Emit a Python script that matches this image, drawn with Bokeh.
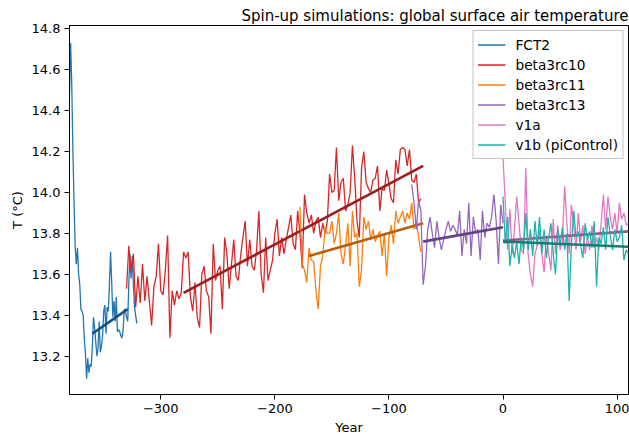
import numpy as np
from bokeh.plotting import figure
from bokeh.models import (Range1d, FixedTicker, PrintfTickFormatter, CustomJSTickFormatter,
                          Legend, LegendItem, ColumnDataSource)
from bokeh.embed import file_html
from bokeh.resources import INLINE

# ---------------- data ----------------
fct2_years = list(range(-380, -320, 1))
fct2_T = [14.48, 14.73, 14.52, 14.20, 13.95, 13.73, 13.65, 13.73, 13.60, 13.55,
          13.43, 13.42, 13.40, 13.28, 13.21, 13.09, 13.19, 13.12, 13.16, 13.15,
          13.24, 13.39, 13.34, 13.27, 13.20, 13.24, 13.37, 13.22, 13.25, 13.30,
          13.42, 13.45, 13.31, 13.44, 13.42, 13.55, 13.71, 13.56, 13.39, 13.47,
          13.37, 13.49, 13.32, 13.33, 13.32, 13.30, 13.29, 13.33, 13.43, 13.42,
          13.39, 13.37, 13.55, 13.70, 13.58, 13.69, 13.55, 13.44, 13.40, 13.36]

b10_years = list(range(-330, -71, 2))
b10_T = [13.53, 13.74, 13.61, 13.70, 13.44, 13.59, 13.46, 13.65, 13.47, 13.59,
         13.47, 13.35, 13.54, 13.59, 13.75, 13.52, 13.50, 13.62, 13.79, 13.29,
         13.52, 13.45, 13.52, 13.48, 13.51, 13.71, 13.68, 13.71, 13.49, 13.42,
         13.56, 13.39, 13.34, 13.60, 13.64, 13.52, 13.49, 13.31, 13.75, 13.57,
         13.62, 13.64, 13.43, 13.78, 13.70, 13.53, 13.65, 13.77, 13.59, 13.57,
         13.69, 13.78, 13.86, 13.64, 13.77, 13.64, 13.62, 13.72, 13.91, 13.60,
         13.51, 13.78, 13.57, 13.62, 13.67, 13.80, 13.87, 13.69, 13.78, 13.70,
         13.77, 13.83, 13.89, 13.75, 13.72, 13.91, 13.80, 13.63, 13.99, 13.90,
         13.85, 13.89, 13.80, 13.86, 13.88, 13.78, 13.85, 13.80, 13.86, 14.09,
         14.00, 14.01, 14.22, 13.96, 14.05, 14.07, 13.91, 13.94, 14.00, 14.23,
         14.07, 13.86, 13.78, 14.12, 14.20, 14.05, 14.02, 14.00, 14.06, 14.07,
         14.13, 13.91, 14.02, 14.01, 14.11, 14.04, 13.97, 13.95, 14.16, 14.09,
         14.21, 14.22, 14.21, 14.13, 14.21, 14.06, 14.05, 14.09, 13.95, 13.97]

b11_years = list(range(-178, -71, 2))
b11_T = [13.93, 13.65, 13.62, 13.56, 13.73, 13.67, 13.66, 13.52, 13.43, 13.64,
         13.69, 13.83, 13.80, 13.80, 13.86, 13.75, 13.80, 13.90, 13.70, 13.65,
         13.74, 13.85, 13.64, 13.91, 13.78, 13.80, 13.54, 13.62, 13.88, 13.82,
         13.86, 13.77, 13.82, 13.76, 13.79, 13.81, 13.69, 13.80, 13.59, 13.78,
         13.84, 13.75, 13.91, 13.85, 13.88, 13.91, 13.85, 13.90, 13.87, 13.95,
         13.82, 13.86, 13.78, 13.71]

b13_years = list(range(-80, 1, 2))
b13_T = [14.04, 13.95, 13.82, 13.96, 13.91, 13.55, 13.64, 13.82, 13.88, 13.80,
         13.73, 13.86, 13.78, 13.72, 13.77, 13.82, 13.86, 13.81, 13.84, 13.82,
         13.79, 13.91, 13.69, 13.82, 13.75, 13.95, 13.69, 13.88, 13.80, 13.82,
         13.67, 13.91, 13.78, 13.85, 13.83, 13.88, 13.99, 13.86, 13.65, 13.94,
         13.85]

v1a_years = list(range(0, 111, 2))
v1a_T = [14.17, 13.95, 13.72, 13.92, 13.70, 13.82, 13.98, 13.85, 13.72, 13.70,
         14.12, 13.70, 13.60, 13.54, 13.70, 13.74, 13.82, 13.70, 13.61, 13.79,
         13.70, 13.62, 13.87, 13.70, 13.84, 13.72, 13.76, 14.03, 13.85, 13.70,
         13.94, 13.83, 13.72, 13.90, 13.76, 13.84, 13.70, 13.78, 13.72, 13.84,
         13.73, 13.78, 13.72, 13.85, 13.99, 13.82, 13.98, 13.88, 13.82, 13.90,
         13.80, 13.95, 13.87, 13.90, 13.84, 13.85]

v1b_years = list(range(0, 111, 2))
v1b_T = [13.98, 13.75, 13.88, 13.64, 13.74, 13.68, 13.76, 13.65, 13.78, 13.72,
         13.90, 13.72, 13.82, 13.69, 13.86, 13.74, 13.88, 13.70, 13.82, 13.68,
         13.78, 13.85, 13.70, 13.60, 13.82, 13.74, 13.83, 13.72, 13.80, 13.47,
         13.75, 13.91, 13.78, 13.81, 13.74, 13.68, 13.85, 13.77, 13.81, 13.73,
         13.86, 13.54, 13.78, 13.75, 13.83, 13.72, 13.88, 13.79, 13.72, 13.82,
         13.76, 13.78, 13.84, 13.67, 13.72, 13.70]

# linear trend end points (year, T)
trend_years = [[-360, -329], [-280, -70], [-170, -70], [-70, 0], [0, 110], [0, 110]]
trend_T = [[13.31, 13.43], [13.51, 14.13], [13.69, 13.85], [13.76, 13.83],
           [13.765, 13.81], [13.76, 13.735]]

names = ["FCT2", "beta3rc10", "beta3rc11", "beta3rc13", "v1a", "v1b (piControl)"]
colors = ["#1f77b4", "#d62728", "#ff7f0e", "#9467bd", "#e377c2", "#20b2aa"]
trend_colors = ["#18507c", "#9b1d1e", "#b85d0c", "#624282", "#a0508a", "#147d76"]

x_ticks = [-300, -200, -100, 0, 100]
y_ticks = [13.2, 13.4, 13.6, 13.8, 14.0, 14.2, 14.4, 14.6, 14.8]

series = [(fct2_years, fct2_T), (b10_years, b10_T), (b11_years, b11_T),
          (b13_years, b13_T), (v1a_years, v1a_T), (v1b_years, v1b_T)]

# ---------------- figure ----------------
FONT = "DejaVu Sans"
p = figure(width=629, height=437, output_backend="svg", toolbar_location=None,
           x_range=Range1d(-380, 110), y_range=Range1d(13.013, 14.816),
           min_border_left=69, min_border_right=1, min_border_top=25, min_border_bottom=42)
p.title.text = "Spin-up simulations: global surface air temperature"
p.title.align = "right"
p.title.text_font = FONT
p.title.text_font_size = "15px"
p.title.text_font_style = "normal"
p.title.text_color = "black"
p.title.standoff = 2

p.xgrid.visible = False
p.ygrid.visible = False
p.outline_line_color = "black"
p.outline_line_width = 1
p.background_fill_color = "white"
p.border_fill_color = "white"

p.xaxis.ticker = FixedTicker(ticks=x_ticks)
p.xaxis.formatter = CustomJSTickFormatter(
    code="return tick < 0 ? '\u2212' + Math.abs(tick) : tick.toString();")
p.yaxis.ticker = FixedTicker(ticks=y_ticks)
p.yaxis.formatter = PrintfTickFormatter(format="%.1f")
for ax in (p.xaxis, p.yaxis):
    ax.axis_line_color = "black"
    ax.major_tick_line_color = "black"
    ax.major_tick_out = 5
    ax.major_tick_in = 0
    ax.minor_tick_line_color = None
    ax.major_label_text_font = FONT
    ax.major_label_text_font_size = "13px"
    ax.major_label_text_color = "black"
    ax.axis_label_text_font = FONT
    ax.axis_label_text_font_size = "13px"
    ax.axis_label_text_font_style = "normal"
    ax.axis_label_text_color = "black"
p.xaxis.axis_label = "Year"
p.yaxis.axis_label = "T (°C)"
p.xaxis.major_label_standoff = 4
p.xaxis.axis_label_standoff = 4
p.yaxis.major_label_standoff = 4
p.yaxis.axis_label_standoff = 4

items = []
for i, (xs, ys) in enumerate(series):
    r = p.line(xs, ys, line_color=colors[i], line_width=1.3)
    p.line(trend_years[i], trend_T[i], line_color=trend_colors[i], line_width=2.6)
    items.append(LegendItem(label=names[i], renderers=[r]))

legend = Legend(items=items, location="top_right", margin=5, padding=4, spacing=1,
                label_height=19, glyph_height=19, glyph_width=28, label_standoff=10,
                label_text_font=FONT, label_text_font_size="13.7px", label_text_color="black",
                border_line_color="#c4c4c4", border_line_width=1, border_line_alpha=1.0,
                background_fill_color="white", background_fill_alpha=0.8)
p.add_layout(legend)

open("out.html", "w").write(file_html(p, INLINE))
